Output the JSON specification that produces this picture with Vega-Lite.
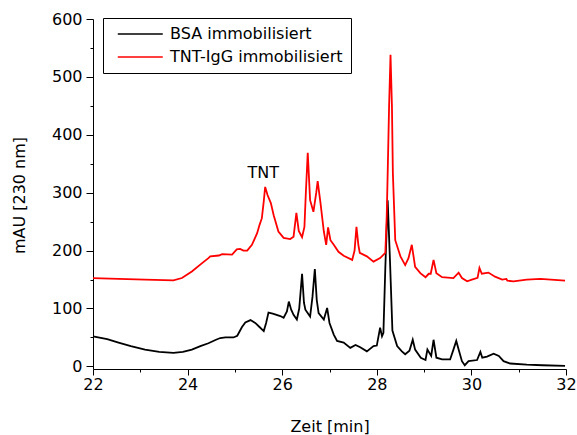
{
  "$schema": "https://vega.github.io/schema/vega-lite/v6.json",
  "width": 473,
  "height": 350,
  "autosize": {"type": "none"},
  "padding": {"left": 93, "top": 19, "right": 11, "bottom": 66},
  "config": {
    "view": {"stroke": null},
    "font": "DejaVu Sans",
    "axis": {"domainColor": "#000", "tickColor": "#000", "labelColor": "#000", "titleColor": "#000", "grid": false, "labelFont": "DejaVu Sans", "titleFont": "DejaVu Sans", "titleFontWeight": "normal", "domainWidth": 1, "tickWidth": 1}
  },
  "datasets": {
    "chrom": [
      {"t": 22.0, "mAU": 52, "series": "BSA immobilisiert"},
      {"t": 22.3, "mAU": 47, "series": "BSA immobilisiert"},
      {"t": 22.54, "mAU": 41, "series": "BSA immobilisiert"},
      {"t": 22.8, "mAU": 35, "series": "BSA immobilisiert"},
      {"t": 23.1, "mAU": 29, "series": "BSA immobilisiert"},
      {"t": 23.4, "mAU": 25, "series": "BSA immobilisiert"},
      {"t": 23.7, "mAU": 23.5, "series": "BSA immobilisiert"},
      {"t": 23.9, "mAU": 25, "series": "BSA immobilisiert"},
      {"t": 24.09, "mAU": 29, "series": "BSA immobilisiert"},
      {"t": 24.27, "mAU": 35, "series": "BSA immobilisiert"},
      {"t": 24.44, "mAU": 40, "series": "BSA immobilisiert"},
      {"t": 24.6, "mAU": 46, "series": "BSA immobilisiert"},
      {"t": 24.69, "mAU": 49, "series": "BSA immobilisiert"},
      {"t": 24.8, "mAU": 50, "series": "BSA immobilisiert"},
      {"t": 24.97, "mAU": 50, "series": "BSA immobilisiert"},
      {"t": 25.05, "mAU": 53, "series": "BSA immobilisiert"},
      {"t": 25.15, "mAU": 68, "series": "BSA immobilisiert"},
      {"t": 25.22, "mAU": 76, "series": "BSA immobilisiert"},
      {"t": 25.33, "mAU": 80, "series": "BSA immobilisiert"},
      {"t": 25.43, "mAU": 75, "series": "BSA immobilisiert"},
      {"t": 25.52, "mAU": 68, "series": "BSA immobilisiert"},
      {"t": 25.61, "mAU": 61, "series": "BSA immobilisiert"},
      {"t": 25.66, "mAU": 75, "series": "BSA immobilisiert"},
      {"t": 25.71, "mAU": 93, "series": "BSA immobilisiert"},
      {"t": 25.8, "mAU": 91, "series": "BSA immobilisiert"},
      {"t": 25.96, "mAU": 87, "series": "BSA immobilisiert"},
      {"t": 26.03, "mAU": 84, "series": "BSA immobilisiert"},
      {"t": 26.1, "mAU": 95, "series": "BSA immobilisiert"},
      {"t": 26.14, "mAU": 112, "series": "BSA immobilisiert"},
      {"t": 26.19, "mAU": 98, "series": "BSA immobilisiert"},
      {"t": 26.24, "mAU": 89, "series": "BSA immobilisiert"},
      {"t": 26.31, "mAU": 81, "series": "BSA immobilisiert"},
      {"t": 26.36, "mAU": 100, "series": "BSA immobilisiert"},
      {"t": 26.42, "mAU": 160, "series": "BSA immobilisiert"},
      {"t": 26.46, "mAU": 110, "series": "BSA immobilisiert"},
      {"t": 26.49, "mAU": 98, "series": "BSA immobilisiert"},
      {"t": 26.59, "mAU": 86, "series": "BSA immobilisiert"},
      {"t": 26.64, "mAU": 120, "series": "BSA immobilisiert"},
      {"t": 26.69, "mAU": 168, "series": "BSA immobilisiert"},
      {"t": 26.73, "mAU": 115, "series": "BSA immobilisiert"},
      {"t": 26.77, "mAU": 92, "series": "BSA immobilisiert"},
      {"t": 26.88, "mAU": 81, "series": "BSA immobilisiert"},
      {"t": 26.95, "mAU": 101, "series": "BSA immobilisiert"},
      {"t": 27.0, "mAU": 75, "series": "BSA immobilisiert"},
      {"t": 27.09, "mAU": 55, "series": "BSA immobilisiert"},
      {"t": 27.16, "mAU": 44, "series": "BSA immobilisiert"},
      {"t": 27.3, "mAU": 41, "series": "BSA immobilisiert"},
      {"t": 27.44, "mAU": 32, "series": "BSA immobilisiert"},
      {"t": 27.55, "mAU": 37, "series": "BSA immobilisiert"},
      {"t": 27.65, "mAU": 33, "series": "BSA immobilisiert"},
      {"t": 27.79, "mAU": 26, "series": "BSA immobilisiert"},
      {"t": 27.93, "mAU": 35, "series": "BSA immobilisiert"},
      {"t": 28.0, "mAU": 36, "series": "BSA immobilisiert"},
      {"t": 28.07, "mAU": 67, "series": "BSA immobilisiert"},
      {"t": 28.11, "mAU": 52, "series": "BSA immobilisiert"},
      {"t": 28.14, "mAU": 58, "series": "BSA immobilisiert"},
      {"t": 28.18, "mAU": 170, "series": "BSA immobilisiert"},
      {"t": 28.23, "mAU": 287, "series": "BSA immobilisiert"},
      {"t": 28.28, "mAU": 180, "series": "BSA immobilisiert"},
      {"t": 28.33, "mAU": 62, "series": "BSA immobilisiert"},
      {"t": 28.43, "mAU": 35, "series": "BSA immobilisiert"},
      {"t": 28.53, "mAU": 26, "series": "BSA immobilisiert"},
      {"t": 28.6, "mAU": 21, "series": "BSA immobilisiert"},
      {"t": 28.69, "mAU": 27, "series": "BSA immobilisiert"},
      {"t": 28.76, "mAU": 46, "series": "BSA immobilisiert"},
      {"t": 28.81, "mAU": 29, "series": "BSA immobilisiert"},
      {"t": 28.93, "mAU": 15, "series": "BSA immobilisiert"},
      {"t": 29.03, "mAU": 11, "series": "BSA immobilisiert"},
      {"t": 29.07, "mAU": 29, "series": "BSA immobilisiert"},
      {"t": 29.15, "mAU": 18, "series": "BSA immobilisiert"},
      {"t": 29.2, "mAU": 46, "series": "BSA immobilisiert"},
      {"t": 29.26, "mAU": 15, "series": "BSA immobilisiert"},
      {"t": 29.38, "mAU": 12, "series": "BSA immobilisiert"},
      {"t": 29.55, "mAU": 12, "series": "BSA immobilisiert"},
      {"t": 29.62, "mAU": 29, "series": "BSA immobilisiert"},
      {"t": 29.68, "mAU": 44, "series": "BSA immobilisiert"},
      {"t": 29.73, "mAU": 29, "series": "BSA immobilisiert"},
      {"t": 29.8, "mAU": 9, "series": "BSA immobilisiert"},
      {"t": 29.86, "mAU": 2, "series": "BSA immobilisiert"},
      {"t": 29.94, "mAU": 9, "series": "BSA immobilisiert"},
      {"t": 30.12, "mAU": 11, "series": "BSA immobilisiert"},
      {"t": 30.19, "mAU": 25, "series": "BSA immobilisiert"},
      {"t": 30.23, "mAU": 15, "series": "BSA immobilisiert"},
      {"t": 30.33, "mAU": 17, "series": "BSA immobilisiert"},
      {"t": 30.47, "mAU": 22, "series": "BSA immobilisiert"},
      {"t": 30.58, "mAU": 18, "series": "BSA immobilisiert"},
      {"t": 30.68, "mAU": 9, "series": "BSA immobilisiert"},
      {"t": 30.82, "mAU": 5, "series": "BSA immobilisiert"},
      {"t": 31.17, "mAU": 3, "series": "BSA immobilisiert"},
      {"t": 31.5, "mAU": 2, "series": "BSA immobilisiert"},
      {"t": 31.98, "mAU": 1, "series": "BSA immobilisiert"},
      {"t": 22.0, "mAU": 152.6, "series": "TNT-IgG immobilisiert"},
      {"t": 22.54, "mAU": 151, "series": "TNT-IgG immobilisiert"},
      {"t": 23.1, "mAU": 150, "series": "TNT-IgG immobilisiert"},
      {"t": 23.5, "mAU": 149, "series": "TNT-IgG immobilisiert"},
      {"t": 23.7, "mAU": 148.5, "series": "TNT-IgG immobilisiert"},
      {"t": 23.88, "mAU": 152.6, "series": "TNT-IgG immobilisiert"},
      {"t": 24.09, "mAU": 164, "series": "TNT-IgG immobilisiert"},
      {"t": 24.3, "mAU": 178, "series": "TNT-IgG immobilisiert"},
      {"t": 24.44, "mAU": 187, "series": "TNT-IgG immobilisiert"},
      {"t": 24.48, "mAU": 190, "series": "TNT-IgG immobilisiert"},
      {"t": 24.66, "mAU": 191.5, "series": "TNT-IgG immobilisiert"},
      {"t": 24.73, "mAU": 194, "series": "TNT-IgG immobilisiert"},
      {"t": 24.94, "mAU": 193, "series": "TNT-IgG immobilisiert"},
      {"t": 25.04, "mAU": 202, "series": "TNT-IgG immobilisiert"},
      {"t": 25.11, "mAU": 203, "series": "TNT-IgG immobilisiert"},
      {"t": 25.18, "mAU": 200, "series": "TNT-IgG immobilisiert"},
      {"t": 25.26, "mAU": 200, "series": "TNT-IgG immobilisiert"},
      {"t": 25.36, "mAU": 210, "series": "TNT-IgG immobilisiert"},
      {"t": 25.47, "mAU": 230, "series": "TNT-IgG immobilisiert"},
      {"t": 25.52, "mAU": 244, "series": "TNT-IgG immobilisiert"},
      {"t": 25.57, "mAU": 256, "series": "TNT-IgG immobilisiert"},
      {"t": 25.61, "mAU": 285, "series": "TNT-IgG immobilisiert"},
      {"t": 25.64, "mAU": 310, "series": "TNT-IgG immobilisiert"},
      {"t": 25.69, "mAU": 296, "series": "TNT-IgG immobilisiert"},
      {"t": 25.76, "mAU": 282, "series": "TNT-IgG immobilisiert"},
      {"t": 25.82, "mAU": 261, "series": "TNT-IgG immobilisiert"},
      {"t": 25.92, "mAU": 233, "series": "TNT-IgG immobilisiert"},
      {"t": 26.03, "mAU": 222, "series": "TNT-IgG immobilisiert"},
      {"t": 26.17, "mAU": 220, "series": "TNT-IgG immobilisiert"},
      {"t": 26.24, "mAU": 224, "series": "TNT-IgG immobilisiert"},
      {"t": 26.3, "mAU": 265, "series": "TNT-IgG immobilisiert"},
      {"t": 26.35, "mAU": 234, "series": "TNT-IgG immobilisiert"},
      {"t": 26.42, "mAU": 223, "series": "TNT-IgG immobilisiert"},
      {"t": 26.47, "mAU": 241, "series": "TNT-IgG immobilisiert"},
      {"t": 26.5, "mAU": 300, "series": "TNT-IgG immobilisiert"},
      {"t": 26.54, "mAU": 369, "series": "TNT-IgG immobilisiert"},
      {"t": 26.59, "mAU": 287, "series": "TNT-IgG immobilisiert"},
      {"t": 26.66, "mAU": 267, "series": "TNT-IgG immobilisiert"},
      {"t": 26.72, "mAU": 300, "series": "TNT-IgG immobilisiert"},
      {"t": 26.75, "mAU": 320, "series": "TNT-IgG immobilisiert"},
      {"t": 26.81, "mAU": 282, "series": "TNT-IgG immobilisiert"},
      {"t": 26.88, "mAU": 233, "series": "TNT-IgG immobilisiert"},
      {"t": 26.93, "mAU": 210, "series": "TNT-IgG immobilisiert"},
      {"t": 26.97, "mAU": 240, "series": "TNT-IgG immobilisiert"},
      {"t": 27.02, "mAU": 218, "series": "TNT-IgG immobilisiert"},
      {"t": 27.09, "mAU": 210, "series": "TNT-IgG immobilisiert"},
      {"t": 27.19, "mAU": 198, "series": "TNT-IgG immobilisiert"},
      {"t": 27.3, "mAU": 191, "series": "TNT-IgG immobilisiert"},
      {"t": 27.48, "mAU": 184, "series": "TNT-IgG immobilisiert"},
      {"t": 27.53, "mAU": 200, "series": "TNT-IgG immobilisiert"},
      {"t": 27.57, "mAU": 241, "series": "TNT-IgG immobilisiert"},
      {"t": 27.61, "mAU": 210, "series": "TNT-IgG immobilisiert"},
      {"t": 27.64, "mAU": 196, "series": "TNT-IgG immobilisiert"},
      {"t": 27.79, "mAU": 190, "series": "TNT-IgG immobilisiert"},
      {"t": 27.93, "mAU": 181, "series": "TNT-IgG immobilisiert"},
      {"t": 28.07, "mAU": 187, "series": "TNT-IgG immobilisiert"},
      {"t": 28.18, "mAU": 196, "series": "TNT-IgG immobilisiert"},
      {"t": 28.21, "mAU": 260, "series": "TNT-IgG immobilisiert"},
      {"t": 28.23, "mAU": 333, "series": "TNT-IgG immobilisiert"},
      {"t": 28.26, "mAU": 450, "series": "TNT-IgG immobilisiert"},
      {"t": 28.29, "mAU": 538, "series": "TNT-IgG immobilisiert"},
      {"t": 28.32, "mAU": 450, "series": "TNT-IgG immobilisiert"},
      {"t": 28.34, "mAU": 333, "series": "TNT-IgG immobilisiert"},
      {"t": 28.39, "mAU": 218, "series": "TNT-IgG immobilisiert"},
      {"t": 28.5, "mAU": 190, "series": "TNT-IgG immobilisiert"},
      {"t": 28.6, "mAU": 175, "series": "TNT-IgG immobilisiert"},
      {"t": 28.67, "mAU": 187, "series": "TNT-IgG immobilisiert"},
      {"t": 28.74, "mAU": 210, "series": "TNT-IgG immobilisiert"},
      {"t": 28.81, "mAU": 172, "series": "TNT-IgG immobilisiert"},
      {"t": 28.92, "mAU": 161, "series": "TNT-IgG immobilisiert"},
      {"t": 29.03, "mAU": 154, "series": "TNT-IgG immobilisiert"},
      {"t": 29.1, "mAU": 160, "series": "TNT-IgG immobilisiert"},
      {"t": 29.14, "mAU": 160, "series": "TNT-IgG immobilisiert"},
      {"t": 29.2, "mAU": 184, "series": "TNT-IgG immobilisiert"},
      {"t": 29.26, "mAU": 161, "series": "TNT-IgG immobilisiert"},
      {"t": 29.38, "mAU": 154, "series": "TNT-IgG immobilisiert"},
      {"t": 29.62, "mAU": 152.6, "series": "TNT-IgG immobilisiert"},
      {"t": 29.73, "mAU": 162, "series": "TNT-IgG immobilisiert"},
      {"t": 29.8, "mAU": 152.6, "series": "TNT-IgG immobilisiert"},
      {"t": 29.91, "mAU": 147, "series": "TNT-IgG immobilisiert"},
      {"t": 30.01, "mAU": 150, "series": "TNT-IgG immobilisiert"},
      {"t": 30.13, "mAU": 153, "series": "TNT-IgG immobilisiert"},
      {"t": 30.17, "mAU": 170, "series": "TNT-IgG immobilisiert"},
      {"t": 30.22, "mAU": 160, "series": "TNT-IgG immobilisiert"},
      {"t": 30.36, "mAU": 162, "series": "TNT-IgG immobilisiert"},
      {"t": 30.5, "mAU": 155, "series": "TNT-IgG immobilisiert"},
      {"t": 30.65, "mAU": 150, "series": "TNT-IgG immobilisiert"},
      {"t": 30.74, "mAU": 151, "series": "TNT-IgG immobilisiert"},
      {"t": 30.76, "mAU": 148, "series": "TNT-IgG immobilisiert"},
      {"t": 30.89, "mAU": 147, "series": "TNT-IgG immobilisiert"},
      {"t": 31.17, "mAU": 150, "series": "TNT-IgG immobilisiert"},
      {"t": 31.46, "mAU": 151, "series": "TNT-IgG immobilisiert"},
      {"t": 31.98, "mAU": 148, "series": "TNT-IgG immobilisiert"}
    ],
    "ann": [{"t": 25.6, "mAU": 334, "label": "TNT"}]
  },
  "layer": [
    {
      "data": {"name": "chrom"},
      "mark": {"type": "line", "strokeWidth": 1.8},
      "encoding": {
        "x": {"field": "t", "type": "quantitative", "scale": {"domain": [22, 32], "nice": false, "zero": false},
          "axis": {"orient": "bottom", "values": [22, 24, 26, 28, 30, 32], "tickSize": 6, "labelPadding": 1, "labelFontSize": 16, "title": "Zeit [min]", "titleFontSize": 16, "titleBaseline": "alphabetic", "titleY": 62, "labelFlush": false}},
        "y": {"field": "mAU", "type": "quantitative", "scale": {"domain": [-4.5, 600], "nice": false, "zero": false},
          "axis": {"orient": "left", "values": [0, 100, 200, 300, 400, 500, 600], "tickSize": 7, "labelPadding": 4, "labelFontSize": 16, "title": "mAU [230 nm]", "titleFontSize": 16, "titleAngle": 270, "titleAlign": "center", "titleBaseline": "alphabetic", "titleX": -69, "titleY": 176, "labelFlush": false}},
        "color": {"field": "series", "type": "nominal",
          "scale": {"domain": ["BSA immobilisiert", "TNT-IgG immobilisiert"], "range": ["#000000", "#ff0000"]},
          "legend": {"orient": "none", "legendX": 10, "legendY": -1, "title": null, "symbolType": "M-0.27,0H9.73", "symbolSize": 81, "symbolStrokeWidth": 1.5, "labelFontSize": 16, "labelFont": "DejaVu Sans", "labelColor": "#000", "labelOffset": 43, "labelLimit": 0, "padding": 8, "rowPadding": 7, "strokeColor": "#000", "fillColor": "#fff"}}
      }
    },
    {
      "data": {"name": "ann"},
      "mark": {"type": "text", "fontSize": 16, "font": "DejaVu Sans", "color": "#000", "align": "center", "baseline": "middle"},
      "encoding": {
        "x": {"field": "t", "type": "quantitative", "axis": {"orient": "bottom", "values": [23, 25, 27, 29, 31], "labels": false, "domain": false, "tickSize": 3, "title": null}},
        "y": {"field": "mAU", "type": "quantitative", "axis": {"orient": "left", "values": [50, 150, 250, 350, 450, 550], "labels": false, "domain": false, "tickSize": 3, "title": null}},
        "text": {"field": "label"}
      }
    }
  ],
  "resolve": {"axis": {"x": "independent", "y": "independent"}}
}
